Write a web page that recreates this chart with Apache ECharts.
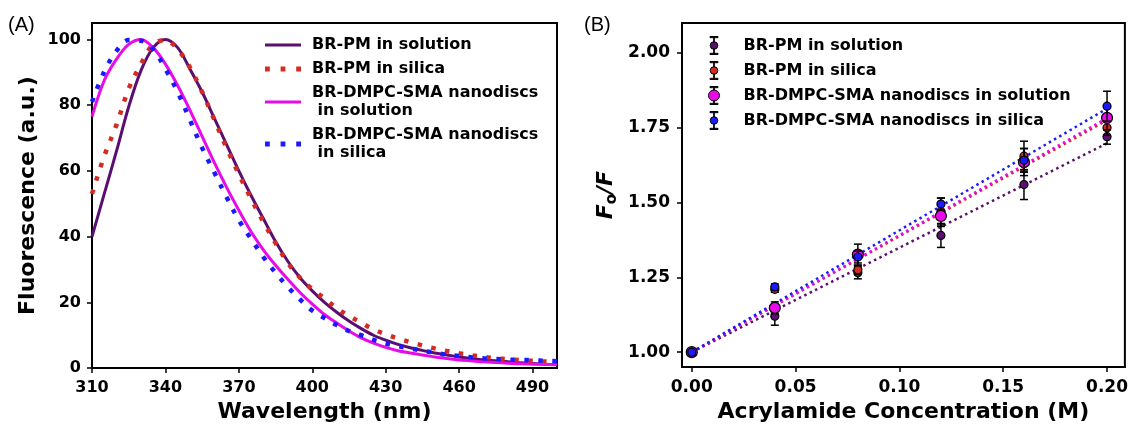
<!DOCTYPE html>
<html><head><meta charset="utf-8">
<script src="https://cdn.jsdelivr.net/npm/echarts@6/dist/echarts.min.js"></script>
<style>html,body{margin:0;padding:0;background:#fff;}#c{width:1131px;height:428px;}</style>
</head><body><div id="c"></div>
<script>
// ---------- Panel A data ----------
const wavelengths = [310,315,320,325,330,335,340,345,350,355,360,365,370,375,380,385,390,395,400,405,410,415,420,425,430,435,440,445,450,455,460,465,470,475,480,485,490,495,500];
const pmSolution = [40,53,66,79.5,90.5,97.5,100,97.5,91,84,76,68,60,52.5,45.5,38.5,32.5,27.5,23.5,20,17,14.3,12,10,8.5,7.2,6.2,5.4,4.6,4.0,3.4,2.9,2.5,2.2,1.9,1.6,1.4,1.2,1.1];
const pmSilica = [53,64.5,74,85,92.5,98.5,99.8,97,91.5,84,75.5,67,59,51.5,44.5,38,32,27.5,24,21.2,18.2,15.9,13.8,11.8,10.3,9,7.9,6.9,6,5.2,4.5,3.9,3.4,3.0,2.7,2.4,2.2,2.0,1.9];
const ndSolution = [76.5,87.5,94,98.5,100,97.5,92.5,86,78.5,70.5,62.5,55,48,41.5,36,31.3,27,23,19.5,16.3,13.7,11.3,9.2,7.6,6.3,5.3,4.6,4.0,3.4,2.9,2.5,2.2,1.9,1.7,1.5,1.3,1.2,1.1,1.0];
const ndSilica = [81,90.2,96.5,99.8,99.6,97,91,84,75.5,67,59.5,52,45,39.3,33.8,29,24.7,20.9,17.5,15.2,13.1,11.3,10,8.6,7.5,6.7,6.0,5.3,4.7,4.1,3.7,3.3,3.0,2.8,2.6,2.5,2.4,2.2,2.1];
const wlTicks = [310,340,370,400,430,460,490];
const fluorTicks = [0,20,40,60,80,100];
const namesA = ['BR-PM in solution','BR-PM in silica','BR-DMPC-SMA nanodiscs\n in solution','BR-DMPC-SMA nanodiscs\n in silica'];

// ---------- Panel B data ----------
const conc = [0,0.04,0.08,0.12,0.16,0.20];
const qPmSolution = [1.00,1.12,1.265,1.39,1.56,1.72];
const qPmSolutionErr = [0.005,0.03,0.02,0.04,0.05,0.025];
const qPmSilica = [1.00,1.21,1.275,1.47,1.655,1.75];
const qPmSilicaErr = [0.005,0.01,0.015,0.045,0.05,0.025];
const qNdSolution = [1.00,1.148,1.326,1.455,1.635,1.783];
const qNdSolutionErr = [0.005,0.02,0.035,0.035,0.045,0.04];
const qNdSilica = [1.00,1.218,1.318,1.495,1.641,1.822];
const qNdSilicaErr = [0.005,0.01,0.02,0.02,0.04,0.05];
const fitConc = [0,0.20];
const fitPmSolution = [1.00,1.698];
const fitPmSilica = [1.00,1.775];
const fitNdSolution = [1.00,1.782];
const fitNdSilica = [1.00,1.814];
const concTicks = [0,0.05,0.10,0.15,0.20];
const ratioTicks = [1.00,1.25,1.50,1.75,2.00];
const namesB = ['BR-PM in solution ','BR-PM in silica ','BR-DMPC-SMA nanodiscs in solution','BR-DMPC-SMA nanodiscs in silica'];

const cPurple = '#5a0f70', cRed = '#d42a22', cMagenta = '#e80ae8', cBlue = '#1a1aff';
const FONT = 'DejaVu Sans';

function pairs(xs, ys){ return xs.map((x,i)=>[x, ys[i]]); }
function triples(xs, ys, es){ return xs.map((x,i)=>[x, ys[i], es[i]]); }

function errRender(color, r){
  return function(params, api){
    const c = api.value(0), v = api.value(1), e = api.value(2);
    const p = api.coord([c, v]), t = api.coord([c, v + e]), b = api.coord([c, v - e]);
    const cw = 4, ls = {stroke:'#000', lineWidth:1.5};
    return {type:'group', children:[
      {type:'line', shape:{x1:p[0],y1:t[1],x2:p[0],y2:b[1]}, style:ls},
      {type:'line', shape:{x1:p[0]-cw,y1:t[1],x2:p[0]+cw,y2:t[1]}, style:ls},
      {type:'line', shape:{x1:p[0]-cw,y1:b[1],x2:p[0]+cw,y2:b[1]}, style:ls},
      {type:'circle', shape:{cx:p[0],cy:p[1],r:r}, style:{fill:color, stroke:'#000', lineWidth:1.2}}
    ]};
  };
}

const iconSolid = 'path://M0,0H36V3H0Z';
const iconDotted = 'path://M0,0H4.8V4.8H0Z M15.6,0H20.4V4.8H15.6Z M31.2,0H36V4.8H31.2Z';
const iconSmall = 'path://M1.5,0H9.5V1.2H1.5Z M1.5,16.8H9.5V18H1.5Z M5.2,0H5.8V5.2H5.2Z M5.2,12.8H5.8V18H5.2Z M9.3,9A3.8,3.8 0 1 1 1.7,9A3.8,3.8 0 1 1 9.3,9Z';
const iconBig = 'path://M1.5,0H9.5V1.2H1.5Z M1.5,16.8H9.5V18H1.5Z M5.2,0H5.8V3.5H5.2Z M5.2,14.5H5.8V18H5.2Z M11,9A5.5,5.5 0 1 1 0,9A5.5,5.5 0 1 1 11,9Z';

const axisCommon = (fs) => ({
  axisLine:{show:true, onZero:false, lineStyle:{color:'#000', width:2}},
  axisTick:{show:true, inside:false, length:5, lineStyle:{color:'#000', width:1.5}},
  splitLine:{show:false},
  axisLabel:{color:'#000', fontFamily:FONT, fontWeight:'bold', fontSize:fs, margin:10},
  nameTextStyle:{color:'#000', fontFamily:FONT, fontWeight:'bold', fontSize:22}
});

function mergeAxis(base, extra){
  const o = Object.assign({}, base, extra);
  ['axisTick','axisLabel','nameTextStyle','axisLine'].forEach(k=>{ if(extra[k]) o[k] = Object.assign({}, base[k], extra[k]); });
  return o;
}

const aA = axisCommon(16), aB = axisCommon(17);

const option = {
  backgroundColor:'#fff',
  animation:false,
  title:[
    {text:'(A)', left:8, top:15, padding:0, textStyle:{fontFamily:'Liberation Sans', fontWeight:'normal', fontSize:20, color:'#000'}},
    {text:'(B)', left:584, top:15, padding:0, textStyle:{fontFamily:'Liberation Sans', fontWeight:'normal', fontSize:20, color:'#000'}}
  ],
  grid:[
    {left:92, top:23, width:465, height:351, show:true, borderColor:'#000', borderWidth:2, containLabel:false},
    {left:682, top:23, width:445, height:350, show:true, borderColor:'#000', borderWidth:2, containLabel:false}
  ],
  xAxis:[
    mergeAxis(aA, {type:'value', gridIndex:0, min:310, max:500, name:'Wavelength (nm)', nameLocation:'middle', nameGap:30,
      axisTick:{customValues:wlTicks}, axisLabel:{customValues:wlTicks, margin:12}}),
    mergeAxis(aB, {type:'value', gridIndex:1, min:-0.0047, max:0.2086, name:'Acrylamide Concentration (M)', nameLocation:'middle', nameGap:30,
      axisTick:{customValues:concTicks}, axisLabel:{customValues:concTicks, margin:12, formatter:v=>v.toFixed(2)}})
  ],
  yAxis:[
    mergeAxis(aA, {type:'value', gridIndex:0, min:0, max:105, name:'Fluorescence (a.u.)', nameLocation:'middle', nameGap:53,
      axisTick:{customValues:fluorTicks}, axisLabel:{customValues:fluorTicks, margin:11}}),
    mergeAxis(aB, {type:'value', gridIndex:1, min:0.95, max:2.10, name:'{i|F}{s|o}{i|/F}', nameLocation:'middle', nameGap:62,
      axisTick:{customValues:ratioTicks}, axisLabel:{customValues:ratioTicks, margin:12, formatter:v=>v.toFixed(2)},
      nameTextStyle:{rich:{
        i:{fontFamily:FONT, fontWeight:'bold', fontStyle:'italic', fontSize:22, lineHeight:28, color:'#000'},
        s:{fontFamily:FONT, fontWeight:'bold', fontSize:15, lineHeight:14, verticalAlign:'bottom', color:'#000'}
      }}})
  ],
  legend:[
    {orient:'vertical', left:265, top:36, padding:0, itemWidth:36, itemHeight:18, itemGap:6, selectedMode:false,
      textStyle:{fontFamily:FONT, fontWeight:'bold', fontSize:16, lineHeight:18, color:'#000', padding:[0,0,0,6]},
      data:[
        {name:namesA[0], icon:iconSolid, itemStyle:{color:cPurple, borderWidth:0}},
        {name:namesA[1], icon:iconDotted, itemStyle:{color:cRed, borderWidth:0}},
        {name:namesA[2], icon:iconSolid, itemStyle:{color:cMagenta, borderWidth:0}},
        {name:namesA[3], icon:iconDotted, itemStyle:{color:cBlue, borderWidth:0}}
      ]},
    {orient:'vertical', left:708, top:36, padding:0, itemWidth:11, itemHeight:18, itemGap:6, selectedMode:false,
      textStyle:{fontFamily:FONT, fontWeight:'bold', fontSize:16, lineHeight:18, color:'#000', padding:[0,0,0,19]},
      data:[
        {name:namesB[0], icon:iconSmall, itemStyle:{color:cPurple, borderColor:'#000', borderWidth:1}},
        {name:namesB[1], icon:iconSmall, itemStyle:{color:cRed, borderColor:'#000', borderWidth:1}},
        {name:namesB[2], icon:iconBig, itemStyle:{color:cMagenta, borderColor:'#000', borderWidth:1}},
        {name:namesB[3], icon:iconSmall, itemStyle:{color:cBlue, borderColor:'#000', borderWidth:1}}
      ]}
  ],
  series:[
    {type:'line', name:namesA[0], xAxisIndex:0, yAxisIndex:0, data:pairs(wavelengths, pmSolution), symbol:'none', smooth:0.35,
      lineStyle:{color:cPurple, width:3}, itemStyle:{color:cPurple}},
    {type:'line', name:namesA[1], xAxisIndex:0, yAxisIndex:0, data:pairs(wavelengths, pmSilica), symbol:'none', smooth:0.35,
      lineStyle:{color:cRed, width:4.5, type:[4.5,9.5]}, itemStyle:{color:cRed}},
    {type:'line', name:namesA[2], xAxisIndex:0, yAxisIndex:0, data:pairs(wavelengths, ndSolution), symbol:'none', smooth:0.35,
      lineStyle:{color:cMagenta, width:3}, itemStyle:{color:cMagenta}},
    {type:'line', name:namesA[3], xAxisIndex:0, yAxisIndex:0, data:pairs(wavelengths, ndSilica), symbol:'none', smooth:0.35,
      lineStyle:{color:cBlue, width:4.5, type:[4.5,9.5]}, itemStyle:{color:cBlue}},

    {type:'line', name:'fit1', xAxisIndex:1, yAxisIndex:1, data:pairs(fitConc, fitPmSolution), symbol:'none', z:1,
      lineStyle:{color:cPurple, width:2.5, type:[2.5,3.5]}},
    {type:'line', name:'fit2', xAxisIndex:1, yAxisIndex:1, data:pairs(fitConc, fitPmSilica), symbol:'none', z:1,
      lineStyle:{color:cRed, width:2.5, type:[2.5,3.5]}},
    {type:'line', name:'fit3', xAxisIndex:1, yAxisIndex:1, data:pairs(fitConc, fitNdSolution), symbol:'none', z:1,
      lineStyle:{color:cMagenta, width:2.5, type:[2.5,3.5]}},
    {type:'line', name:'fit4', xAxisIndex:1, yAxisIndex:1, data:pairs(fitConc, fitNdSilica), symbol:'none', z:1,
      lineStyle:{color:cBlue, width:2.5, type:[2.5,3.5]}},

    {type:'custom', name:namesB[0], xAxisIndex:1, yAxisIndex:1, clip:false, z:3, itemStyle:{color:cPurple},
      data:triples(conc, qPmSolution, qPmSolutionErr), renderItem:errRender(cPurple, 4), encode:{x:0, y:1}},
    {type:'custom', name:namesB[1], xAxisIndex:1, yAxisIndex:1, clip:false, z:3, itemStyle:{color:cRed},
      data:triples(conc, qPmSilica, qPmSilicaErr), renderItem:errRender(cRed, 4), encode:{x:0, y:1}},
    {type:'custom', name:namesB[2], xAxisIndex:1, yAxisIndex:1, clip:false, z:3, itemStyle:{color:cMagenta},
      data:triples(conc, qNdSolution, qNdSolutionErr), renderItem:errRender(cMagenta, 5.5), encode:{x:0, y:1}},
    {type:'custom', name:namesB[3], xAxisIndex:1, yAxisIndex:1, clip:false, z:3, itemStyle:{color:cBlue},
      data:triples(conc, qNdSilica, qNdSilicaErr), renderItem:errRender(cBlue, 4), encode:{x:0, y:1}}
  ]
};

const chart = echarts.init(document.getElementById('c'), null, {renderer:'canvas'});
chart.setOption(option);
</script>
</body></html>
